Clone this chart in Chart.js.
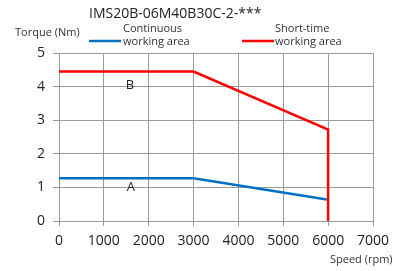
<!DOCTYPE html>
<html>
<head>
<meta charset="utf-8">
<script src="https://cdn.jsdelivr.net/npm/chart.js@4/dist/chart.umd.min.js"></script>
<style>
html,body{margin:0;padding:0;background:#fff;}
#wrap{width:404px;height:271px;position:relative;}
</style>
</head>
<body>
<div id="wrap"><canvas id="chart"></canvas></div>
<script>
var title = "IMS20B-06M40B30C-2-***";
var xTicks = [0,1000,2000,3000,4000,5000,6000,7000];
var yTicks = [0,1,2,3,4,5];

var shortSpeed = [0,3000,6000,6000];
var shortTorque = [4.45,4.45,2.72,0];
var contSpeed = [0,3000,5970];
var contTorque = [1.27,1.27,0.64];

var areaNames = ["Continuous working area","Short-time working area"];
var areaMarks = [{t:"A",x:1600,y:1.0},{t:"B",x:1580,y:4.05}];

function pts(xs,ys){
	var out = [];
	for (var i = 0; i < xs.length; i++) out.push({x:xs[i],y:ys[i]});
	return out;
}

var FONT = "'Open Sans', sans-serif";

var textPlugin = {
	id:"texts",
	afterDraw:function(chart){
		var c = chart.ctx;
		var xs = chart.scales.x, ys = chart.scales.y;
		c.save();
		c.fillStyle = "#222";
		c.textBaseline = "alphabetic";
		c.textAlign = "left";
		c.font = "14px " + FONT;
		c.fillText(title, 89, 18);

		c.font = "11px " + FONT;
		c.fillStyle = "#333";
		c.fillText("Torque (Nm)", 15, 36);

		// legend
		c.lineWidth = 2.5;
		c.strokeStyle = "#0070c0";
		c.beginPath(); c.moveTo(89,41); c.lineTo(121,41); c.stroke();
		c.strokeStyle = "#ff0000";
		c.beginPath(); c.moveTo(242,41); c.lineTo(274,41); c.stroke();
		c.fillText("Continuous", 123, 32);
		c.fillText("working area", 123, 45);
		c.fillText("Short-time", 275, 32);
		c.fillText("working area", 275, 45);

		c.fillText("Speed (rpm)", 330, 263);

		c.font = "13px " + FONT;
		c.fillStyle = "#222";
		c.textAlign = "center";
		c.textBaseline = "middle";
		areaMarks.forEach(function(m){
			c.fillText(m.t, xs.getPixelForValue(m.x), ys.getPixelForValue(m.y));
		});
		c.restore();
	}
};

new Chart(document.getElementById("chart"), {
	type:"scatter",
	data:{
		datasets:[{
			label:areaNames[1],
			data:pts(shortSpeed,shortTorque),
			showLine:true,
			borderColor:"#ff0000",
			borderWidth:2.5,
			pointRadius:0,
			fill:false
		},{
			label:areaNames[0],
			data:pts(contSpeed,contTorque),
			showLine:true,
			borderColor:"#0070c0",
			borderWidth:2.5,
			pointRadius:0,
			fill:false
		}]
	},
	options:{
		responsive:true,
		maintainAspectRatio:false,
		animation:false,
		layout:{padding:{left:0,right:31,top:53,bottom:0}},
		plugins:{legend:{display:false},title:{display:false},tooltip:{enabled:false}},
		scales:{
			x:{
				type:"linear",min:0,max:7000,
				afterBuildTicks:function(s){ s.ticks = xTicks.map(function(v){return {value:v};}); },
				afterFit:function(s){ s.height = 50; },
				grid:{color:"#9a9a9a",lineWidth:1,tickLength:5},
				border:{color:"#9a9a9a"},
				ticks:{color:"#222",font:{family:FONT,size:14},padding:7,maxRotation:0,
					callback:function(v){ return String(v); }}
			},
			y:{
				type:"linear",min:0,max:5,
				afterBuildTicks:function(s){ s.ticks = yTicks.map(function(v){return {value:v};}); },
				afterFit:function(s){ s.width = 59; },
				grid:{color:"#9a9a9a",lineWidth:1,tickLength:6},
				border:{color:"#9a9a9a"},
				ticks:{color:"#222",font:{family:FONT,size:14},padding:8,
					callback:function(v){ return String(v); }}
			}
		}
	},
	plugins:[textPlugin]
});
</script>
</body>
</html>
